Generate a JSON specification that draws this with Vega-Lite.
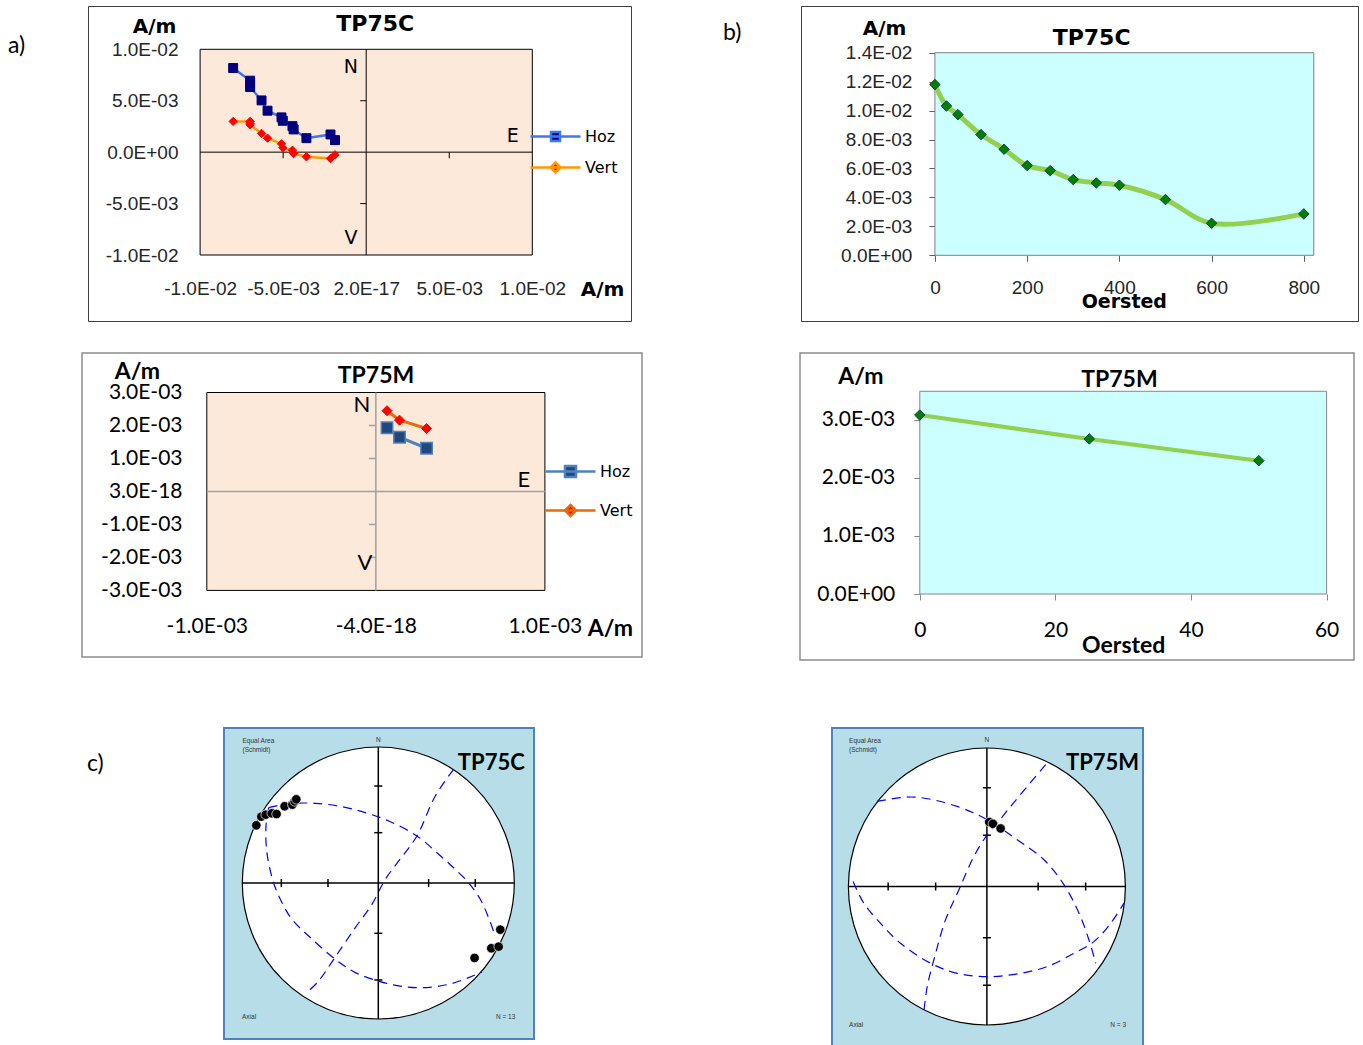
{
"$schema":"https://vega.github.io/schema/vega-lite/v6.json",
"background":"white",
"padding":{"left":0,"top":5,"right":0,"bottom":0},
"spacing":0,
"bounds":"full",
"resolve":{"scale":{"shape":"independent","fill":"independent","stroke":"independent"}},
"config":{"font":"Liberation Sans","view":{"stroke":null},"axis":{"grid":false}},
"datasets":{
"zC":[
{"s":"Hoz","i":0,"x":-0.00801,"y":0.00818},{"s":"Hoz","i":1,"x":-0.00699,"y":0.00695},{"s":"Hoz","i":2,"x":-0.00699,"y":0.00663},{"s":"Hoz","i":3,"x":-0.00699,"y":0.00633},{"s":"Hoz","i":4,"x":-0.0063,"y":0.00503},{"s":"Hoz","i":5,"x":-0.00594,"y":0.00403},{"s":"Hoz","i":6,"x":-0.0051,"y":0.00338},{"s":"Hoz","i":7,"x":-0.00502,"y":0.00305},{"s":"Hoz","i":8,"x":-0.00444,"y":0.00253},{"s":"Hoz","i":9,"x":-0.00437,"y":0.00221},{"s":"Hoz","i":10,"x":-0.0036,"y":0.00136},{"s":"Hoz","i":11,"x":-0.00215,"y":0.00172},{"s":"Hoz","i":12,"x":-0.00188,"y":0.00117},
{"s":"Vert","i":0,"x":-0.00801,"y":0.00299},{"s":"Vert","i":1,"x":-0.00699,"y":0.00299},{"s":"Vert","i":2,"x":-0.00699,"y":0.0028},{"s":"Vert","i":3,"x":-0.00699,"y":0.00266},{"s":"Vert","i":4,"x":-0.0063,"y":0.00182},{"s":"Vert","i":5,"x":-0.00594,"y":0.00136},{"s":"Vert","i":6,"x":-0.0051,"y":0.00081},{"s":"Vert","i":7,"x":-0.00502,"y":0.00042},{"s":"Vert","i":8,"x":-0.00444,"y":0.00019},{"s":"Vert","i":9,"x":-0.00437,"y":-0.00013},{"s":"Vert","i":10,"x":-0.0036,"y":-0.00045},{"s":"Vert","i":11,"x":-0.00215,"y":-0.00062},{"s":"Vert","i":12,"x":-0.00188,"y":-0.00026}],
"zM":[
{"s":"Hoz","i":0,"x":0.000066,"y":0.00193},{"s":"Hoz","i":1,"x":0.00014,"y":0.001645},{"s":"Hoz","i":2,"x":0.0003,"y":0.00131},
{"s":"Vert","i":0,"x":0.000066,"y":0.002447},{"s":"Vert","i":1,"x":0.00014,"y":0.002162},{"s":"Vert","i":2,"x":0.0003,"y":0.001909}],
"dC":[{"f":0,"m":0.0118},{"f":25,"m":0.01032},{"f":50,"m":0.00972},{"f":100,"m":0.00834},{"f":150,"m":0.00733},{"f":200,"m":0.0062},{"f":250,"m":0.00585},{"f":300,"m":0.00523},{"f":350,"m":0.005},{"f":400,"m":0.00484},{"f":500,"m":0.00385},{"f":600,"m":0.00221},{"f":800,"m":0.00286}],
"dM":[{"f":0,"m":0.003081},{"f":25,"m":0.002671},{"f":50,"m":0.002296}],
"tk":[{"t":-0.713},{"t":-0.37},{"t":0.37},{"t":0.713}],
"pC":[{"x":-0.897,"y":0.424},{"x":-0.86,"y":0.488},{"x":-0.828,"y":0.502},{"x":-0.784,"y":0.512},{"x":-0.748,"y":0.507},{"x":-0.689,"y":0.564},{"x":-0.632,"y":0.576},{"x":-0.615,"y":0.6},{"x":-0.603,"y":0.615},{"x":0.708,"y":-0.551},{"x":0.831,"y":-0.48},{"x":0.885,"y":-0.468},{"x":0.897,"y":-0.343}],
"cC":[
{"c":1,"i":0,"x":-0.806,"y":0.554},{"c":1,"i":1,"x":-0.659,"y":0.583},{"c":1,"i":2,"x":-0.463,"y":0.586},{"c":1,"i":3,"x":-0.267,"y":0.561},{"c":1,"i":4,"x":-0.096,"y":0.517},{"c":1,"i":5,"x":0.076,"y":0.456},{"c":1,"i":6,"x":0.284,"y":0.346},{"c":1,"i":7,"x":0.444,"y":0.211},{"c":1,"i":8,"x":0.566,"y":0.1},{"c":1,"i":9,"x":0.664,"y":0.002},{"c":1,"i":10,"x":0.75,"y":-0.12},{"c":1,"i":11,"x":0.811,"y":-0.255},{"c":1,"i":12,"x":0.855,"y":-0.377},
{"c":2,"i":0,"x":-0.806,"y":0.554},{"c":2,"i":1,"x":-0.826,"y":0.419},{"c":2,"i":2,"x":-0.819,"y":0.223},{"c":2,"i":3,"x":-0.77,"y":0.002},{"c":2,"i":4,"x":-0.708,"y":-0.145},{"c":2,"i":5,"x":-0.635,"y":-0.267},{"c":2,"i":6,"x":-0.512,"y":-0.39},{"c":2,"i":7,"x":-0.316,"y":-0.561},{"c":2,"i":8,"x":-0.169,"y":-0.659},{"c":2,"i":9,"x":0.002,"y":-0.721},{"c":2,"i":10,"x":0.15,"y":-0.757},{"c":2,"i":11,"x":0.321,"y":-0.77},{"c":2,"i":12,"x":0.517,"y":-0.745},{"c":2,"i":13,"x":0.664,"y":-0.696},{"c":2,"i":14,"x":0.762,"y":-0.654},
{"c":3,"i":0,"x":0.554,"y":0.836},{"c":3,"i":1,"x":0.419,"y":0.64},{"c":3,"i":2,"x":0.284,"y":0.346},{"c":3,"i":3,"x":0.15,"y":0.162},{"c":3,"i":4,"x":0.051,"y":0.027},{"c":3,"i":5,"x":-0.047,"y":-0.157},{"c":3,"i":6,"x":-0.169,"y":-0.328},{"c":3,"i":7,"x":-0.328,"y":-0.561},{"c":3,"i":8,"x":-0.439,"y":-0.721},{"c":3,"i":9,"x":-0.525,"y":-0.806}],
"pM":[{"x":0.017,"y":0.465},{"x":0.043,"y":0.453},{"x":0.099,"y":0.419}],
"cM":[
{"c":1,"i":0,"x":-0.793,"y":0.614},{"c":1,"i":1,"x":-0.528,"y":0.646},{"c":1,"i":2,"x":-0.214,"y":0.578},{"c":1,"i":3,"x":0.002,"y":0.482},{"c":1,"i":4,"x":0.219,"y":0.337},{"c":1,"i":5,"x":0.412,"y":0.193},{"c":1,"i":6,"x":0.557,"y":0.012},{"c":1,"i":7,"x":0.665,"y":-0.193},{"c":1,"i":8,"x":0.737,"y":-0.386},{"c":1,"i":9,"x":0.786,"y":-0.554},
{"c":2,"i":0,"x":-0.966,"y":0.036},{"c":2,"i":1,"x":-0.889,"y":-0.12},{"c":2,"i":2,"x":-0.769,"y":-0.265},{"c":2,"i":3,"x":-0.624,"y":-0.41},{"c":2,"i":4,"x":-0.407,"y":-0.554},{"c":2,"i":5,"x":-0.214,"y":-0.627},{"c":2,"i":6,"x":0.002,"y":-0.651},{"c":2,"i":7,"x":0.219,"y":-0.631},{"c":2,"i":8,"x":0.436,"y":-0.578},{"c":2,"i":9,"x":0.629,"y":-0.482},{"c":2,"i":10,"x":0.773,"y":-0.398},{"c":2,"i":11,"x":0.894,"y":-0.265},{"c":2,"i":12,"x":0.99,"y":-0.12},
{"c":3,"i":0,"x":0.424,"y":0.88},{"c":3,"i":1,"x":0.292,"y":0.723},{"c":3,"i":2,"x":0.171,"y":0.578},{"c":3,"i":3,"x":0.075,"y":0.458},{"c":3,"i":4,"x":0.002,"y":0.373},{"c":3,"i":5,"x":-0.094,"y":0.217},{"c":3,"i":6,"x":-0.202,"y":-0.024},{"c":3,"i":7,"x":-0.299,"y":-0.241},{"c":3,"i":8,"x":-0.383,"y":-0.53},{"c":3,"i":9,"x":-0.431,"y":-0.723},{"c":3,"i":10,"x":-0.455,"y":-0.904}]
},
"vconcat":[
{"hconcat":[
 {"width":88,"height":29,"data":{"values":[{}]},"mark":{"type":"point","opacity":0},"view":{"stroke":null},
  "title":{"text":"a)","orient":"bottom","anchor":"start","frame":"group","offset":0,"dx":8,"baseline":"top","font":"Lato","fontSize":23,"fontWeight":"normal","color":"#000"}},
 {"width":543,"height":315,"view":{"fill":"white","stroke":"#404040","strokeWidth":1},
  "layer":[
   {"data":{"values":[{}]},"mark":{"type":"rect","fill":"#FDE9D9","stroke":"#000000","strokeWidth":1},
    "encoding":{
     "x":{"datum":-0.01,"type":"quantitative","scale":{"domain":[-0.016749,0.015942],"nice":false,"zero":false},
      "axis":{"orient":"bottom","offset":-42,"values":[-0.01,-0.005,0,0.005,0.01],"domain":false,"ticks":false,"grid":false,"labelPadding":0,"labelFont":"Liberation Sans","labelFontSize":19,"labelColor":"#262626","labelOverlap":false,"labelFlush":false,
       "labelExpr":"datum.value == 0 ? '2.0E-17' : replace(replace(replace(format(datum.value,'.1e'),'\u2212','-'),'e-','E-0'),'e+','E+0')",
       "title":"A/m","titleX":514,"titleY":10,"titleAlign":"center","titleBaseline":"middle","titleFont":"DejaVu Sans","titleFontSize":20,"titleFontWeight":"bold","titleColor":"#000"}},
     "x2":{"datum":0.01},
     "y":{"datum":-0.01,"type":"quantitative","scale":{"domain":[-0.016417,0.01421],"nice":false,"zero":false},
      "axis":{"orient":"left","offset":-90,"values":[-0.01,-0.005,0,0.005,0.01],"domain":false,"ticks":false,"grid":false,"labelPadding":0,"labelFont":"Liberation Sans","labelFontSize":19,"labelColor":"#262626","labelOverlap":false,"labelFlush":false,
       "labelExpr":"replace(replace(replace(format(datum.value,'.1e'),'\u2212','-'),'e-','E-0'),'e+','E+0')",
       "title":"A/m","titleAngle":0,"titleX":-24,"titleY":20,"titleAlign":"center","titleBaseline":"middle","titleFont":"DejaVu Sans","titleFontSize":20,"titleFontWeight":"bold","titleColor":"#000"}},
     "y2":{"datum":0.01}}},
   {"data":{"values":[{}]},"mark":{"type":"rule","color":"#000","strokeWidth":1},
    "encoding":{"x":{"datum":0,"type":"quantitative","scale":{"domain":[-0.016749,0.015942],"nice":false,"zero":false}},
     "y":{"datum":-0.01,"type":"quantitative","scale":{"domain":[-0.016417,0.01421],"nice":false,"zero":false}},"y2":{"datum":0.01}}},
   {"data":{"values":[{}]},"mark":{"type":"rule","color":"#000","strokeWidth":1},
    "encoding":{"y":{"datum":0,"type":"quantitative","scale":{"domain":[-0.016417,0.01421],"nice":false,"zero":false}},
     "x":{"datum":-0.01,"type":"quantitative","scale":{"domain":[-0.016749,0.015942],"nice":false,"zero":false}},"x2":{"datum":0.01}}},
   {"data":{"values":[{"t":-0.005},{"t":0.005}]},"mark":{"type":"tick","orient":"vertical","size":6,"thickness":1,"color":"#000","opacity":1,"yOffset":3},
    "encoding":{"x":{"field":"t","type":"quantitative","scale":{"domain":[-0.016749,0.015942],"nice":false,"zero":false}},
     "y":{"datum":0,"type":"quantitative","scale":{"domain":[-0.016417,0.01421],"nice":false,"zero":false}}}},
   {"data":{"values":[{"t":-0.005},{"t":0.005}]},"mark":{"type":"tick","orient":"horizontal","size":6,"thickness":1,"color":"#000","opacity":1,"xOffset":-3},
    "encoding":{"y":{"field":"t","type":"quantitative","scale":{"domain":[-0.016417,0.01421],"nice":false,"zero":false}},
     "x":{"datum":0,"type":"quantitative","scale":{"domain":[-0.016749,0.015942],"nice":false,"zero":false}}}},
   {"data":{"name":"zC"},"transform":[{"filter":"datum.s == 'Hoz'"}],"mark":{"type":"line","color":"#3C78F0","strokeWidth":2.5},
    "encoding":{"x":{"field":"x","type":"quantitative","scale":{"domain":[-0.016749,0.015942],"nice":false,"zero":false}},
     "y":{"field":"y","type":"quantitative","scale":{"domain":[-0.016417,0.01421],"nice":false,"zero":false}},"order":{"field":"i"}}},
   {"data":{"name":"zC"},"transform":[{"filter":"datum.s == 'Vert'"}],"mark":{"type":"line","color":"#FF9900","strokeWidth":2.5},
    "encoding":{"x":{"field":"x","type":"quantitative","scale":{"domain":[-0.016749,0.015942],"nice":false,"zero":false}},
     "y":{"field":"y","type":"quantitative","scale":{"domain":[-0.016417,0.01421],"nice":false,"zero":false}},"order":{"field":"i"}}},
   {"data":{"name":"zC"},"transform":[{"filter":"datum.s == 'Hoz'"}],"mark":{"type":"point","shape":"square","filled":true,"fill":"#000080","stroke":"#000080","strokeWidth":1,"size":80,"opacity":1},
    "encoding":{"x":{"field":"x","type":"quantitative","scale":{"domain":[-0.016749,0.015942],"nice":false,"zero":false}},
     "y":{"field":"y","type":"quantitative","scale":{"domain":[-0.016417,0.01421],"nice":false,"zero":false}}}},
   {"data":{"name":"zC"},"transform":[{"filter":"datum.s == 'Vert'"}],"mark":{"type":"point","shape":"diamond","filled":true,"fill":"#FF0000","stroke":"#FF0000","strokeWidth":1,"size":70,"opacity":1},
    "encoding":{"x":{"field":"x","type":"quantitative","scale":{"domain":[-0.016749,0.015942],"nice":false,"zero":false}},
     "y":{"field":"y","type":"quantitative","scale":{"domain":[-0.016417,0.01421],"nice":false,"zero":false}}}},
   {"data":{"name":"zC"},"mark":{"type":"point","filled":true,"opacity":0,"strokeWidth":2.5},
    "encoding":{"x":{"field":"x","type":"quantitative","scale":{"domain":[-0.016749,0.015942],"nice":false,"zero":false}},
     "y":{"field":"y","type":"quantitative","scale":{"domain":[-0.016417,0.01421],"nice":false,"zero":false}},
     "shape":{"field":"s","type":"nominal","scale":{"domain":["Hoz","Vert"],"range":["M-2.5,0H2.5M-0.45,-0.45H0.45V0.45H-0.45Z","M-2.5,0H2.5M0,-0.5L0.5,0L0,0.5L-0.5,0Z"]},
      "legend":{"title":null,"orient":"none","legendX":456,"legendY":119,"padding":0,"symbolSize":400,"symbolStrokeWidth":2.5,"symbolOpacity":1,"labelOffset":18,"labelFont":"DejaVu Sans","labelFontSize":16,"labelColor":"#000","rowPadding":10}},
     "fill":{"field":"s","type":"nominal","scale":{"domain":["Hoz","Vert"],"range":["#000080","#FF0000"]},
      "legend":{"title":null,"orient":"none","legendX":456,"legendY":119,"padding":0,"symbolSize":400,"symbolStrokeWidth":2.5,"symbolOpacity":1,"labelOffset":18,"labelFont":"DejaVu Sans","labelFontSize":16,"labelColor":"#000","rowPadding":10}},
     "stroke":{"field":"s","type":"nominal","scale":{"domain":["Hoz","Vert"],"range":["#3C78F0","#FF9900"]},
      "legend":{"title":null,"orient":"none","legendX":456,"legendY":119,"padding":0,"symbolSize":400,"symbolStrokeWidth":2.5,"symbolOpacity":1,"labelOffset":18,"labelFont":"DejaVu Sans","labelFontSize":16,"labelColor":"#000","rowPadding":10}}}},
   {"data":{"values":[{}]},"mark":{"type":"text","font":"DejaVu Sans","fontSize":22,"fontWeight":"bold","color":"#000","align":"center","baseline":"middle"},
    "encoding":{"x":{"datum":0.000548,"type":"quantitative","scale":{"domain":[-0.016749,0.015942],"nice":false,"zero":false}},
     "y":{"datum":0.012431,"type":"quantitative","scale":{"domain":[-0.016417,0.01421],"nice":false,"zero":false}},"text":{"value":"TP75C"}}},
   {"data":{"values":[{}]},"mark":{"type":"text","font":"DejaVu Sans","fontSize":19,"color":"#000","align":"center","baseline":"middle"},
    "encoding":{"x":{"datum":-0.000921,"type":"quantitative","scale":{"domain":[-0.016749,0.015942],"nice":false,"zero":false}},
     "y":{"datum":0.008279,"type":"quantitative","scale":{"domain":[-0.016417,0.01421],"nice":false,"zero":false}},"text":{"value":"N"}}},
   {"data":{"values":[{}]},"mark":{"type":"text","font":"DejaVu Sans","fontSize":19,"color":"#000","align":"center","baseline":"middle"},
    "encoding":{"x":{"datum":0.008826,"type":"quantitative","scale":{"domain":[-0.016749,0.015942],"nice":false,"zero":false}},
     "y":{"datum":0.00157,"type":"quantitative","scale":{"domain":[-0.016417,0.01421],"nice":false,"zero":false}},"text":{"value":"E"}}},
   {"data":{"values":[{}]},"mark":{"type":"text","font":"DejaVu Sans","fontSize":19,"color":"#000","align":"center","baseline":"middle"},
    "encoding":{"x":{"datum":-0.000921,"type":"quantitative","scale":{"domain":[-0.016749,0.015942],"nice":false,"zero":false}},
     "y":{"datum":-0.008318,"type":"quantitative","scale":{"domain":[-0.016417,0.01421],"nice":false,"zero":false}},"text":{"value":"V"}}}
  ]},
 {"width":170,"height":16,"data":{"values":[{}]},"mark":{"type":"point","opacity":0},"view":{"stroke":null},
  "title":{"text":"b)","orient":"bottom","anchor":"start","frame":"group","offset":0,"dx":92,"baseline":"top","font":"Lato","fontSize":23,"fontWeight":"normal","color":"#000"}},
 {"width":557,"height":315,"view":{"fill":"white","stroke":"#404040","strokeWidth":1},
  "layer":[
   {"data":{"values":[{}]},"mark":{"type":"rect","fill":"#CCFFFF","stroke":"#808080","strokeWidth":1},
    "encoding":{
     "x":{"datum":0,"type":"quantitative","scale":{"domain":[-290.4,917.5],"nice":false,"zero":false},
      "axis":{"orient":"bottom","offset":-65.7,"values":[0,200,400,600,800],"domain":false,"ticks":true,"tickSize":6,"tickColor":"#606060","grid":false,"labelPadding":17,"labelFont":"Liberation Sans","labelFontSize":19,"labelColor":"#262626","labelOverlap":false,"labelFlush":false,
       "title":"Oersted","titleX":322.8,"titleY":45.7,"titleAlign":"center","titleBaseline":"middle","titleFont":"DejaVu Sans","titleFontSize":19,"titleFontWeight":"bold","titleColor":"#000"}},
     "x2":{"datum":821.7},
     "y":{"datum":0,"type":"quantitative","scale":{"domain":[-0.00454,0.017227],"nice":false,"zero":false},
      "axis":{"orient":"left","offset":-133.9,"values":[0,0.002,0.004,0.006,0.008,0.01,0.012,0.014],"domain":false,"ticks":true,"tickSize":6,"tickColor":"#606060","grid":false,"labelPadding":17,"labelFont":"Liberation Sans","labelFontSize":19,"labelColor":"#262626","labelOverlap":false,"labelFlush":false,
       "labelExpr":"replace(replace(replace(format(datum.value,'.1e'),'\u2212','-'),'e-','E-0'),'e+','E+0')",
       "title":"A/m","titleAngle":0,"titleX":-50.9,"titleY":22.7,"titleAlign":"center","titleBaseline":"middle","titleFont":"DejaVu Sans","titleFontSize":20,"titleFontWeight":"bold","titleColor":"#000"}},
     "y2":{"datum":0.014}}},
   {"data":{"name":"dC"},"mark":{"type":"line","interpolate":"catmull-rom","color":"#92D050","strokeWidth":5},
    "encoding":{"x":{"field":"f","type":"quantitative","scale":{"domain":[-290.4,917.5],"nice":false,"zero":false}},
     "y":{"field":"m","type":"quantitative","scale":{"domain":[-0.00454,0.017227],"nice":false,"zero":false}}}},
   {"data":{"name":"dC"},"mark":{"type":"point","shape":"diamond","filled":true,"fill":"#008000","stroke":"#17375E","strokeWidth":1,"size":110,"opacity":1},
    "encoding":{"x":{"field":"f","type":"quantitative","scale":{"domain":[-290.4,917.5],"nice":false,"zero":false}},
     "y":{"field":"m","type":"quantitative","scale":{"domain":[-0.00454,0.017227],"nice":false,"zero":false}}}},
   {"data":{"values":[{}]},"mark":{"type":"text","font":"DejaVu Sans","fontSize":22,"fontWeight":"bold","color":"#000","align":"center","baseline":"middle"},
    "encoding":{"x":{"datum":339.8,"type":"quantitative","scale":{"domain":[-290.4,917.5],"nice":false,"zero":false}},
     "y":{"datum":0.015036,"type":"quantitative","scale":{"domain":[-0.00454,0.017227],"nice":false,"zero":false}},"text":{"value":"TP75C"}}}
  ]}
 ],"spacing":0,"bounds":"flush","resolve":{"scale":{"shape":"independent","fill":"independent","stroke":"independent"}}},
{"width":10,"height":30,"data":{"values":[{}]},"mark":{"type":"point","opacity":0},"view":{"stroke":null}},
{"hconcat":[
 {"width":82,"height":10,"data":{"values":[{}]},"mark":{"type":"point","opacity":0},"view":{"stroke":null}},
 {"width":560,"height":304,"view":{"fill":"white","stroke":"#8C8C8C","strokeWidth":1.5},
  "layer":[
   {"data":{"values":[{}]},"mark":{"type":"rect","fill":"#FDE9D9","stroke":"#000000","strokeWidth":1},
    "encoding":{
     "x":{"datum":-0.001,"type":"quantitative","scale":{"domain":[-0.00173824,0.00157439],"nice":false,"zero":false},
      "axis":{"orient":"bottom","offset":-42,"values":[-0.001,0,0.001],"domain":false,"ticks":false,"grid":false,"labelPadding":0,"labelFont":"Lato","labelFontSize":21,"labelColor":"#000","labelOverlap":false,"labelFlush":false,
       "labelExpr":"datum.value == 0 ? '-4.0E-18' : replace(replace(replace(format(datum.value,'.1e'),'\u2212','-'),'e-','E-0'),'e+','E+0')",
       "title":"A/m","titleX":528,"titleY":13,"titleAlign":"center","titleBaseline":"middle","titleFont":"Lato","titleFontSize":23,"titleFontWeight":"bold","titleColor":"#000"}},
     "x2":{"datum":0.001},
     "y":{"datum":-0.003,"type":"quantitative","scale":{"domain":[-0.00501921,0.00419758],"nice":false,"zero":false},
      "axis":{"orient":"left","offset":-100,"values":[0.003,0.002,0.001,0,-0.001,-0.002,-0.003],"domain":false,"ticks":false,"grid":false,"labelPadding":0,"labelFont":"Lato","labelFontSize":21,"labelColor":"#000","labelOverlap":false,"labelFlush":false,
       "labelExpr":"datum.value == 0 ? '3.0E-18' : replace(replace(replace(format(datum.value,'.1e'),'\u2212','-'),'e-','E-0'),'e+','E+0')",
       "title":"A/m","titleAngle":0,"titleX":-45,"titleY":18,"titleAlign":"center","titleBaseline":"middle","titleFont":"Lato","titleFontSize":23,"titleFontWeight":"bold","titleColor":"#000"}},
     "y2":{"datum":0.003}}},
   {"data":{"values":[{}]},"mark":{"type":"rule","color":"#A0A0A0","strokeWidth":1.5},
    "encoding":{"x":{"datum":0,"type":"quantitative","scale":{"domain":[-0.00173824,0.00157439],"nice":false,"zero":false}},
     "y":{"datum":-0.003,"type":"quantitative","scale":{"domain":[-0.00501921,0.00419758],"nice":false,"zero":false}},"y2":{"datum":0.003}}},
   {"data":{"values":[{}]},"mark":{"type":"rule","color":"#A0A0A0","strokeWidth":1.5},
    "encoding":{"y":{"datum":0,"type":"quantitative","scale":{"domain":[-0.00501921,0.00419758],"nice":false,"zero":false}},
     "x":{"datum":-0.001,"type":"quantitative","scale":{"domain":[-0.00173824,0.00157439],"nice":false,"zero":false}},"x2":{"datum":0.001}}},
   {"data":{"values":[{"t":-0.002},{"t":-0.001},{"t":0.001},{"t":0.002}]},"mark":{"type":"tick","orient":"horizontal","size":7,"thickness":1.5,"color":"#A0A0A0","opacity":1,"xOffset":-3.5},
    "encoding":{"y":{"field":"t","type":"quantitative","scale":{"domain":[-0.00501921,0.00419758],"nice":false,"zero":false}},
     "x":{"datum":0,"type":"quantitative","scale":{"domain":[-0.00173824,0.00157439],"nice":false,"zero":false}}}},
   {"data":{"name":"zM"},"transform":[{"filter":"datum.s == 'Hoz'"}],"mark":{"type":"line","color":"#4F81BD","strokeWidth":3},
    "encoding":{"x":{"field":"x","type":"quantitative","scale":{"domain":[-0.00173824,0.00157439],"nice":false,"zero":false}},
     "y":{"field":"y","type":"quantitative","scale":{"domain":[-0.00501921,0.00419758],"nice":false,"zero":false}},"order":{"field":"i"}}},
   {"data":{"name":"zM"},"transform":[{"filter":"datum.s == 'Vert'"}],"mark":{"type":"line","color":"#E46C0A","strokeWidth":3},
    "encoding":{"x":{"field":"x","type":"quantitative","scale":{"domain":[-0.00173824,0.00157439],"nice":false,"zero":false}},
     "y":{"field":"y","type":"quantitative","scale":{"domain":[-0.00501921,0.00419758],"nice":false,"zero":false}},"order":{"field":"i"}}},
   {"data":{"name":"zM"},"transform":[{"filter":"datum.s == 'Hoz'"}],"mark":{"type":"point","shape":"square","filled":true,"fill":"#1F497D","stroke":"#4F81BD","strokeWidth":1.5,"size":130,"opacity":1},
    "encoding":{"x":{"field":"x","type":"quantitative","scale":{"domain":[-0.00173824,0.00157439],"nice":false,"zero":false}},
     "y":{"field":"y","type":"quantitative","scale":{"domain":[-0.00501921,0.00419758],"nice":false,"zero":false}}}},
   {"data":{"name":"zM"},"transform":[{"filter":"datum.s == 'Vert'"}],"mark":{"type":"point","shape":"diamond","filled":true,"fill":"#FF0000","stroke":"#FF0000","strokeWidth":1,"size":100,"opacity":1},
    "encoding":{"x":{"field":"x","type":"quantitative","scale":{"domain":[-0.00173824,0.00157439],"nice":false,"zero":false}},
     "y":{"field":"y","type":"quantitative","scale":{"domain":[-0.00501921,0.00419758],"nice":false,"zero":false}}}},
   {"data":{"name":"zM"},"mark":{"type":"point","filled":true,"opacity":0,"strokeWidth":2.5},
    "encoding":{"x":{"field":"x","type":"quantitative","scale":{"domain":[-0.00173824,0.00157439],"nice":false,"zero":false}},
     "y":{"field":"y","type":"quantitative","scale":{"domain":[-0.00501921,0.00419758],"nice":false,"zero":false}},
     "shape":{"field":"s","type":"nominal","scale":{"domain":["Hoz","Vert"],"range":["M-2.5,0H2.5M-0.55,-0.55H0.55V0.55H-0.55Z","M-2.5,0H2.5M0,-0.55L0.55,0L0,0.55L-0.55,0Z"]},
      "legend":{"title":null,"orient":"none","legendX":477,"legendY":107,"padding":0,"symbolSize":400,"symbolStrokeWidth":2.5,"symbolOpacity":1,"labelOffset":18,"labelFont":"DejaVu Sans","labelFontSize":16,"labelColor":"#000","rowPadding":17}},
     "fill":{"field":"s","type":"nominal","scale":{"domain":["Hoz","Vert"],"range":["#1F497D","#FF0000"]},
      "legend":{"title":null,"orient":"none","legendX":477,"legendY":107,"padding":0,"symbolSize":400,"symbolStrokeWidth":2.5,"symbolOpacity":1,"labelOffset":18,"labelFont":"DejaVu Sans","labelFontSize":16,"labelColor":"#000","rowPadding":17}},
     "stroke":{"field":"s","type":"nominal","scale":{"domain":["Hoz","Vert"],"range":["#4F81BD","#E46C0A"]},
      "legend":{"title":null,"orient":"none","legendX":477,"legendY":107,"padding":0,"symbolSize":400,"symbolStrokeWidth":2.5,"symbolOpacity":1,"labelOffset":18,"labelFont":"DejaVu Sans","labelFontSize":16,"labelColor":"#000","rowPadding":17}}}},
   {"data":{"values":[{}]},"mark":{"type":"text","font":"Lato","fontSize":23,"fontWeight":"bold","color":"#000","align":"center","baseline":"middle"},
    "encoding":{"x":{"datum":0.000001,"type":"quantitative","scale":{"domain":[-0.00173824,0.00157439],"nice":false,"zero":false}},
     "y":{"datum":0.00350026,"type":"quantitative","scale":{"domain":[-0.00501921,0.00419758],"nice":false,"zero":false}},"text":{"value":"TP75M"}}},
   {"data":{"values":[{}]},"mark":{"type":"text","font":"Lato","fontSize":22,"color":"#000","align":"center","baseline":"middle"},
    "encoding":{"x":{"datum":-0.0000819,"type":"quantitative","scale":{"domain":[-0.00173824,0.00157439],"nice":false,"zero":false}},
     "y":{"datum":0.002621,"type":"quantitative","scale":{"domain":[-0.00501921,0.00419758],"nice":false,"zero":false}},"text":{"value":"N"}}},
   {"data":{"values":[{}]},"mark":{"type":"text","font":"Lato","fontSize":22,"color":"#000","align":"center","baseline":"middle"},
    "encoding":{"x":{"datum":0.000876,"type":"quantitative","scale":{"domain":[-0.00173824,0.00157439],"nice":false,"zero":false}},
     "y":{"datum":0.000347,"type":"quantitative","scale":{"domain":[-0.00501921,0.00419758],"nice":false,"zero":false}},"text":{"value":"E"}}},
   {"data":{"values":[{}]},"mark":{"type":"text","font":"Lato","fontSize":22,"color":"#000","align":"center","baseline":"middle"},
    "encoding":{"x":{"datum":-0.0000642,"type":"quantitative","scale":{"domain":[-0.00173824,0.00157439],"nice":false,"zero":false}},
     "y":{"datum":-0.0021693,"type":"quantitative","scale":{"domain":[-0.00501921,0.00419758],"nice":false,"zero":false}},"text":{"value":"V"}}}
  ]},
 {"width":158,"height":10,"data":{"values":[{}]},"mark":{"type":"point","opacity":0},"view":{"stroke":null}},
 {"width":554,"height":307,"view":{"fill":"white","stroke":"#8C8C8C","strokeWidth":1.5},
  "layer":[
   {"data":{"values":[{}]},"mark":{"type":"rect","fill":"#CCFFFF","stroke":"#868686","strokeWidth":1},
    "encoding":{
     "x":{"datum":0,"type":"quantitative","scale":{"domain":[-17.67,64.04],"nice":false,"zero":false},
      "axis":{"orient":"bottom","offset":-66,"values":[0,20,40,60],"domain":false,"ticks":true,"tickSize":6,"tickColor":"#868686","grid":false,"labelPadding":19.5,"labelFont":"Lato","labelFontSize":21,"labelColor":"#000","labelOverlap":false,"labelFlush":false,
       "title":"Oersted","titleX":323.2,"titleY":51.3,"titleAlign":"center","titleBaseline":"middle","titleFont":"Lato","titleFontSize":23,"titleFontWeight":"bold","titleColor":"#000"}},
     "x2":{"datum":60},
     "y":{"datum":0,"type":"quantitative","scale":{"domain":[-0.0011366,0.0041504],"nice":false,"zero":false},
      "axis":{"orient":"left","offset":-119.8,"values":[0,0.001,0.002,0.003],"domain":false,"ticks":true,"tickSize":6,"tickColor":"#868686","grid":false,"labelPadding":19,"labelFont":"Lato","labelFontSize":21,"labelColor":"#000","labelOverlap":false,"labelFlush":false,
       "labelExpr":"replace(replace(replace(format(datum.value,'.1e'),'\u2212','-'),'e-','E-0'),'e+','E+0')",
       "title":"A/m","titleAngle":0,"titleX":-59.3,"titleY":23.2,"titleAlign":"center","titleBaseline":"middle","titleFont":"Lato","titleFontSize":23,"titleFontWeight":"bold","titleColor":"#000"}},
     "y2":{"datum":0.003491}}},
   {"data":{"name":"dM"},"mark":{"type":"line","color":"#92D050","strokeWidth":4},
    "encoding":{"x":{"field":"f","type":"quantitative","scale":{"domain":[-17.67,64.04],"nice":false,"zero":false}},
     "y":{"field":"m","type":"quantitative","scale":{"domain":[-0.0011366,0.0041504],"nice":false,"zero":false}}}},
   {"data":{"name":"dM"},"mark":{"type":"point","shape":"diamond","filled":true,"fill":"#008000","stroke":"#17375E","strokeWidth":1,"size":110,"opacity":1},
    "encoding":{"x":{"field":"f","type":"quantitative","scale":{"domain":[-17.67,64.04],"nice":false,"zero":false}},
     "y":{"field":"m","type":"quantitative","scale":{"domain":[-0.0011366,0.0041504],"nice":false,"zero":false}}}},
   {"data":{"values":[{}]},"mark":{"type":"text","font":"Lato","fontSize":23,"fontWeight":"bold","color":"#000","align":"center","baseline":"middle"},
    "encoding":{"x":{"datum":29.44,"type":"quantitative","scale":{"domain":[-17.67,64.04],"nice":false,"zero":false}},
     "y":{"datum":0.003682,"type":"quantitative","scale":{"domain":[-0.0011366,0.0041504],"nice":false,"zero":false}},"text":{"value":"TP75M"}}}
  ]}
 ],"spacing":0,"bounds":"flush","resolve":{"scale":{"shape":"independent","fill":"independent","stroke":"independent"}}},
{"width":10,"height":66,"data":{"values":[{}]},"mark":{"type":"point","opacity":0},"view":{"stroke":null}},
{"hconcat":[
 {"width":224,"height":25,"data":{"values":[{}]},"mark":{"type":"point","opacity":0},"view":{"stroke":null},
  "title":{"text":"c)","orient":"bottom","anchor":"start","frame":"group","offset":0,"dx":87,"baseline":"top","font":"Lato","fontSize":23,"fontWeight":"normal","color":"#000"}},
 {"width":310,"height":311,"view":{"fill":"#B7DDE8","stroke":"#4F81BD","strokeWidth":2},
  "layer":[
   {"data":{"values":[{}]},"mark":{"type":"point","shape":"circle","filled":true,"fill":"white","stroke":"#000","strokeWidth":1.2,"size":73984,"opacity":1},
    "encoding":{"x":{"datum":0,"type":"quantitative","scale":{"domain":[-1.1346,1.1449],"nice":false,"zero":false},"axis":null},
     "y":{"datum":0,"type":"quantitative","scale":{"domain":[-1.1471,1.1397],"nice":false,"zero":false},"axis":null}}},
   {"data":{"values":[{}]},"mark":{"type":"rule","color":"#000","strokeWidth":1.5},
    "encoding":{"x":{"datum":0,"type":"quantitative","scale":{"domain":[-1.1346,1.1449],"nice":false,"zero":false},"axis":null},
     "y":{"datum":-1,"type":"quantitative","scale":{"domain":[-1.1471,1.1397],"nice":false,"zero":false},"axis":null},"y2":{"datum":1}}},
   {"data":{"values":[{}]},"mark":{"type":"rule","color":"#000","strokeWidth":1.5},
    "encoding":{"y":{"datum":0,"type":"quantitative","scale":{"domain":[-1.1471,1.1397],"nice":false,"zero":false},"axis":null},
     "x":{"datum":-1,"type":"quantitative","scale":{"domain":[-1.1346,1.1449],"nice":false,"zero":false},"axis":null},"x2":{"datum":1}}},
   {"data":{"name":"tk"},"mark":{"type":"tick","orient":"vertical","size":8,"thickness":1.5,"color":"#000","opacity":1},
    "encoding":{"x":{"field":"t","type":"quantitative","scale":{"domain":[-1.1346,1.1449],"nice":false,"zero":false},"axis":null},
     "y":{"datum":0,"type":"quantitative","scale":{"domain":[-1.1471,1.1397],"nice":false,"zero":false},"axis":null}}},
   {"data":{"name":"tk"},"mark":{"type":"tick","orient":"horizontal","size":8,"thickness":1.5,"color":"#000","opacity":1},
    "encoding":{"y":{"field":"t","type":"quantitative","scale":{"domain":[-1.1471,1.1397],"nice":false,"zero":false},"axis":null},
     "x":{"datum":0,"type":"quantitative","scale":{"domain":[-1.1346,1.1449],"nice":false,"zero":false},"axis":null}}},
   {"data":{"name":"cC"},"mark":{"type":"line","interpolate":"catmull-rom","color":"#0000FF","strokeWidth":1.2,"strokeDash":[9,6]},
    "encoding":{"x":{"field":"x","type":"quantitative","scale":{"domain":[-1.1346,1.1449],"nice":false,"zero":false},"axis":null},
     "y":{"field":"y","type":"quantitative","scale":{"domain":[-1.1471,1.1397],"nice":false,"zero":false},"axis":null},
     "detail":{"field":"c","type":"nominal"},"order":{"field":"i"}}},
   {"data":{"name":"pC"},"mark":{"type":"point","shape":"circle","filled":true,"fill":"#000","stroke":"#FFF","strokeWidth":0.7,"size":90,"opacity":1},
    "encoding":{"x":{"field":"x","type":"quantitative","scale":{"domain":[-1.1346,1.1449],"nice":false,"zero":false},"axis":null},
     "y":{"field":"y","type":"quantitative","scale":{"domain":[-1.1471,1.1397],"nice":false,"zero":false},"axis":null}}},
   {"data":{"values":[{}]},"mark":{"type":"text","font":"Lato","fontSize":22,"fontWeight":"bold","color":"#000","align":"center","baseline":"middle"},
    "encoding":{"x":{"datum":0.8308,"type":"quantitative","scale":{"domain":[-1.1346,1.1449],"nice":false,"zero":false},"axis":null},
     "y":{"datum":0.8846,"type":"quantitative","scale":{"domain":[-1.1471,1.1397],"nice":false,"zero":false},"axis":null},"text":{"value":"TP75C"}}},
   {"data":{"values":[{}]},"mark":{"type":"text","font":"Liberation Sans","fontSize":6.5,"lineHeight":8.5,"color":"#333","align":"left","baseline":"top"},
    "encoding":{"x":{"datum":-0.9985,"type":"quantitative","scale":{"domain":[-1.1346,1.1449],"nice":false,"zero":false},"axis":null},
     "y":{"datum":1.0625,"type":"quantitative","scale":{"domain":[-1.1471,1.1397],"nice":false,"zero":false},"axis":null},"text":{"value":["Equal Area","(Schmidt)"]}}},
   {"data":{"values":[{}]},"mark":{"type":"text","font":"Liberation Sans","fontSize":6.5,"color":"#333","align":"center","baseline":"middle"},
    "encoding":{"x":{"datum":0,"type":"quantitative","scale":{"domain":[-1.1346,1.1449],"nice":false,"zero":false},"axis":null},
     "y":{"datum":1.049,"type":"quantitative","scale":{"domain":[-1.1471,1.1397],"nice":false,"zero":false},"axis":null},"text":{"value":"N"}}},
   {"data":{"values":[{}]},"mark":{"type":"text","font":"Liberation Sans","fontSize":6.5,"color":"#333","align":"left","baseline":"middle"},
    "encoding":{"x":{"datum":-1.0022,"type":"quantitative","scale":{"domain":[-1.1346,1.1449],"nice":false,"zero":false},"axis":null},
     "y":{"datum":-0.983,"type":"quantitative","scale":{"domain":[-1.1471,1.1397],"nice":false,"zero":false},"axis":null},"text":{"value":"Axial"}}},
   {"data":{"values":[{}]},"mark":{"type":"text","font":"Liberation Sans","fontSize":6.5,"color":"#333","align":"right","baseline":"middle"},
    "encoding":{"x":{"datum":1.0074,"type":"quantitative","scale":{"domain":[-1.1346,1.1449],"nice":false,"zero":false},"axis":null},
     "y":{"datum":-0.983,"type":"quantitative","scale":{"domain":[-1.1471,1.1397],"nice":false,"zero":false},"axis":null},"text":{"value":"N = 13"}}}
  ]},
 {"width":298,"height":10,"data":{"values":[{}]},"mark":{"type":"point","opacity":0},"view":{"stroke":null}},
 {"width":311,"height":320,"view":{"fill":"#B7DDE8","stroke":"#4F81BD","strokeWidth":2},
  "layer":[
   {"data":{"values":[{}]},"mark":{"type":"point","shape":"circle","filled":true,"fill":"white","stroke":"#000","strokeWidth":1.2,"size":76729,"opacity":1},
    "encoding":{"x":{"datum":0,"type":"quantitative","scale":{"domain":[-1.1184,1.1271],"nice":false,"zero":false},"axis":null},
     "y":{"datum":0,"type":"quantitative","scale":{"domain":[-1.1661,1.1444],"nice":false,"zero":false},"axis":null}}},
   {"data":{"values":[{}]},"mark":{"type":"rule","color":"#000","strokeWidth":1.5},
    "encoding":{"x":{"datum":0,"type":"quantitative","scale":{"domain":[-1.1184,1.1271],"nice":false,"zero":false},"axis":null},
     "y":{"datum":-1,"type":"quantitative","scale":{"domain":[-1.1661,1.1444],"nice":false,"zero":false},"axis":null},"y2":{"datum":1}}},
   {"data":{"values":[{}]},"mark":{"type":"rule","color":"#000","strokeWidth":1.5},
    "encoding":{"y":{"datum":0,"type":"quantitative","scale":{"domain":[-1.1661,1.1444],"nice":false,"zero":false},"axis":null},
     "x":{"datum":-1,"type":"quantitative","scale":{"domain":[-1.1184,1.1271],"nice":false,"zero":false},"axis":null},"x2":{"datum":1}}},
   {"data":{"name":"tk"},"mark":{"type":"tick","orient":"vertical","size":8,"thickness":1.5,"color":"#000","opacity":1},
    "encoding":{"x":{"field":"t","type":"quantitative","scale":{"domain":[-1.1184,1.1271],"nice":false,"zero":false},"axis":null},
     "y":{"datum":0,"type":"quantitative","scale":{"domain":[-1.1661,1.1444],"nice":false,"zero":false},"axis":null}}},
   {"data":{"name":"tk"},"mark":{"type":"tick","orient":"horizontal","size":8,"thickness":1.5,"color":"#000","opacity":1},
    "encoding":{"y":{"field":"t","type":"quantitative","scale":{"domain":[-1.1661,1.1444],"nice":false,"zero":false},"axis":null},
     "x":{"datum":0,"type":"quantitative","scale":{"domain":[-1.1184,1.1271],"nice":false,"zero":false},"axis":null}}},
   {"data":{"name":"cM"},"mark":{"type":"line","interpolate":"catmull-rom","color":"#0000FF","strokeWidth":1.2,"strokeDash":[9,6]},
    "encoding":{"x":{"field":"x","type":"quantitative","scale":{"domain":[-1.1184,1.1271],"nice":false,"zero":false},"axis":null},
     "y":{"field":"y","type":"quantitative","scale":{"domain":[-1.1661,1.1444],"nice":false,"zero":false},"axis":null},
     "detail":{"field":"c","type":"nominal"},"order":{"field":"i"}}},
   {"data":{"name":"pM"},"mark":{"type":"point","shape":"circle","filled":true,"fill":"#000","stroke":"#FFF","strokeWidth":0.7,"size":90,"opacity":1},
    "encoding":{"x":{"field":"x","type":"quantitative","scale":{"domain":[-1.1184,1.1271],"nice":false,"zero":false},"axis":null},
     "y":{"field":"y","type":"quantitative","scale":{"domain":[-1.1661,1.1444],"nice":false,"zero":false},"axis":null}}},
   {"data":{"values":[{}]},"mark":{"type":"text","font":"Lato","fontSize":22,"fontWeight":"bold","color":"#000","align":"center","baseline":"middle"},
    "encoding":{"x":{"datum":0.8354,"type":"quantitative","scale":{"domain":[-1.1184,1.1271],"nice":false,"zero":false},"axis":null},
     "y":{"datum":0.8931,"type":"quantitative","scale":{"domain":[-1.1661,1.1444],"nice":false,"zero":false},"axis":null},"text":{"value":"TP75M"}}},
   {"data":{"values":[{}]},"mark":{"type":"text","font":"Liberation Sans","fontSize":6.5,"lineHeight":8.5,"color":"#333","align":"left","baseline":"top"},
    "encoding":{"x":{"datum":-0.995,"type":"quantitative","scale":{"domain":[-1.1184,1.1271],"nice":false,"zero":false},"axis":null},
     "y":{"datum":1.0686,"type":"quantitative","scale":{"domain":[-1.1661,1.1444],"nice":false,"zero":false},"axis":null},"text":{"value":["Equal Area","(Schmidt)"]}}},
   {"data":{"values":[{}]},"mark":{"type":"text","font":"Liberation Sans","fontSize":6.5,"color":"#333","align":"center","baseline":"middle"},
    "encoding":{"x":{"datum":0,"type":"quantitative","scale":{"domain":[-1.1184,1.1271],"nice":false,"zero":false},"axis":null},
     "y":{"datum":1.0549,"type":"quantitative","scale":{"domain":[-1.1661,1.1444],"nice":false,"zero":false},"axis":null},"text":{"value":"N"}}},
   {"data":{"values":[{}]},"mark":{"type":"text","font":"Liberation Sans","fontSize":6.5,"color":"#333","align":"left","baseline":"middle"},
    "encoding":{"x":{"datum":-0.995,"type":"quantitative","scale":{"domain":[-1.1184,1.1271],"nice":false,"zero":false},"axis":null},
     "y":{"datum":-0.9978,"type":"quantitative","scale":{"domain":[-1.1661,1.1444],"nice":false,"zero":false},"axis":null},"text":{"value":"Axial"}}},
   {"data":{"values":[{}]},"mark":{"type":"text","font":"Liberation Sans","fontSize":6.5,"color":"#333","align":"right","baseline":"middle"},
    "encoding":{"x":{"datum":1.0043,"type":"quantitative","scale":{"domain":[-1.1184,1.1271],"nice":false,"zero":false},"axis":null},
     "y":{"datum":-0.9978,"type":"quantitative","scale":{"domain":[-1.1661,1.1444],"nice":false,"zero":false},"axis":null},"text":{"value":"N = 3"}}}
  ]}
 ],"spacing":0,"bounds":"flush"}
]
}
